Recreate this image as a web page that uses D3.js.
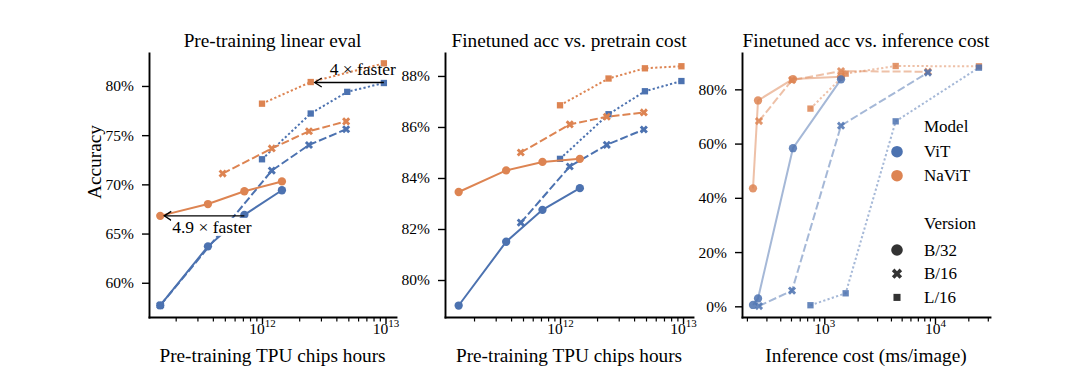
<!DOCTYPE html>
<html><head><meta charset="utf-8">
<script src="https://cdn.jsdelivr.net/npm/d3@7"></script>
<style>
body{margin:0;background:#fff}
svg{display:block}
text{font-family:"Liberation Serif","Times New Roman",serif;fill:#000}
</style>
</head><body>
<svg id="chart" width="1080" height="382"></svg>
<script>
// ---------------- data ----------------
const models = ["ViT", "NaViT"];
const versions = ["B/32", "B/16", "L/16"];
const titles = ["Pre-training linear eval", "Finetuned acc vs. pretrain cost", "Finetuned acc vs. inference cost"];
const xLabels = ["Pre-training TPU chips hours", "Pre-training TPU chips hours", "Inference cost (ms/image)"];
const yLabel = "Accuracy";

// pre-training cost (TPU chip hours)
const costB32 = [1.5e11, 3.65e11, 7.2e11, 1.45e12];
const costB16 = [4.8e11, 1.2e12, 2.4e12, 4.8e12];
const costL16 = [1e12, 2.48e12, 4.9e12, 9.7e12];
const costVitB16Lin = [1.5e11, 1.2e12, 2.4e12, 4.8e12];
const costNavitL16Lin = [1e12, 2.48e12, 9.7e12];

// panel 1: linear eval accuracy (%)
const linVitB32 = [57.7, 63.7, 66.9, 69.4];
const linNavitB32 = [66.8, 68.0, 69.3, 70.3];
const linVitB16 = [57.7, 71.4, 74.0, 75.6];
const linNavitB16 = [71.1, 73.65, 75.4, 76.4];
const linVitL16 = [72.55, 77.2, 79.4, 80.3];
const linNavitL16 = [78.2, 80.4, 82.3];

// panel 2: finetuned accuracy (%)
const ftVitB32 = [79.0, 81.5, 82.75, 83.6];
const ftNavitB32 = [83.45, 84.3, 84.63, 84.75];
const ftVitB16 = [82.25, 84.45, 85.3, 85.9];
const ftNavitB16 = [85.0, 86.1, 86.4, 86.57];
const ftVitL16 = [84.75, 86.5, 87.4, 87.8];
const ftNavitL16 = [86.85, 87.9, 88.3, 88.38];

// panel 3: inference cost (ms/image) and finetuned accuracy (%)
const infB32 = [227, 252, 521, 1416];
const infB16 = [257, 511, 1416, 8630];
const infL16 = [750, 1560, 4415, 24950];
const infVitB32 = [0.5, 2.9, 58.3, 83.7];
const infNavitB32 = [43.5, 75.9, 83.8, 84.6];
const infVitB16 = [0.1, 5.8, 66.6, 86.2];
const infNavitB16 = [68.3, 83.4, 86.7, 86.5];
const infVitL16 = [0.4, 4.8, 68.2, 88.0];
const infNavitL16 = [72.9, 85.8, 88.6, 88.5];

const yTicks1 = [60, 65, 70, 75, 80];
const yTicks2 = [80, 82, 84, 86, 88];
const yTicks3 = [0, 20, 40, 60, 80];
const xMajor12 = [1e12, 1e13];
const xMajor3 = [1e3, 1e4];

// ---------------- style ----------------
const colors = {"ViT": "#4C72B0", "NaViT": "#DD8452"};
const dashes = {"B/32": null, "B/16": "8,3", "L/16": "2.2,2.3"};
const symType = {"B/32": d3.symbolCircle, "B/16": d3.symbolCross, "L/16": d3.symbolSquare};
const symRot = {"B/32": 0, "B/16": 45, "L/16": 0};
const symSize = {"B/32": 54, "B/16": 42, "L/16": 40};
const legSize = {"B/32": 106, "B/16": 66, "L/16": 50};

const zip = (xs, ys) => xs.map((v, i) => [v, ys[i]]);
const ser = (model, version, xs, ys) => ({model, version, pts: zip(xs, ys)});

const TOP = 53, BOTTOM = 317;
const panels = [
  {x0: 149, x1: 396, xDom: [Math.pow(10, 11.085), Math.pow(10, 13.085)], yDom: [56.52, 83.35],
   yTicks: yTicks1, major: xMajor12, faded: false,
   series: [
     ser("ViT", "B/32", costB32, linVitB32), ser("ViT", "B/16", costVitB16Lin, linVitB16), ser("ViT", "L/16", costL16, linVitL16),
     ser("NaViT", "B/32", costB32, linNavitB32), ser("NaViT", "B/16", costB16, linNavitB16), ser("NaViT", "L/16", costNavitL16Lin, linNavitL16)]},
  {x0: 445, x1: 693, xDom: [Math.pow(10, 11.065), Math.pow(10, 13.081)], yDom: [78.55, 88.9],
   yTicks: yTicks2, major: xMajor12, faded: false,
   series: [
     ser("ViT", "B/32", costB32, ftVitB32), ser("ViT", "B/16", costB16, ftVitB16), ser("ViT", "L/16", costL16, ftVitL16),
     ser("NaViT", "B/32", costB32, ftNavitB32), ser("NaViT", "B/16", costB16, ftNavitB16), ser("NaViT", "L/16", costL16, ftNavitL16)]},
  {x0: 742, x1: 990, xDom: [Math.pow(10, 2.2566), Math.pow(10, 4.497)], yDom: [-3.94, 93.4],
   yTicks: yTicks3, major: xMajor3, faded: true,
   series: [
     ser("NaViT", "B/32", infB32, infNavitB32), ser("NaViT", "B/16", infB16, infNavitB16), ser("NaViT", "L/16", infL16, infNavitL16),
     ser("ViT", "B/32", infB32, infVitB32), ser("ViT", "B/16", infB16, infVitB16), ser("ViT", "L/16", infL16, infVitL16)]}
];

const svg = d3.select("#chart");
svg.append("rect").attr("width", 1080).attr("height", 382).attr("fill", "#fff");

function minorTicks(dom) {
  const out = [];
  const lo = Math.floor(Math.log10(dom[0])), hi = Math.ceil(Math.log10(dom[1]));
  for (let e = lo; e <= hi; e++) for (let m = 2; m <= 9; m++) {
    const v = m * Math.pow(10, e);
    if (v >= dom[0] && v <= dom[1]) out.push(v);
  }
  return out;
}

const scales = [];
panels.forEach((p, pi) => {
  const g = svg.append("g");
  const x = d3.scaleLog().domain(p.xDom).range([p.x0, p.x1]);
  const y = d3.scaleLinear().domain(p.yDom).range([BOTTOM, TOP]);
  scales.push({x, y});

  const clipId = "clip" + pi;
  svg.append("clipPath").attr("id", clipId).append("rect")
    .attr("x", p.x0).attr("y", TOP - 6).attr("width", p.x1 - p.x0 + 4).attr("height", BOTTOM - TOP + 6);

  // minor x ticks
  g.append("g").attr("transform", `translate(0,${BOTTOM})`)
    .call(d3.axisBottom(x).tickValues(minorTicks(p.xDom)).tickSize(4.5).tickFormat(() => ""))
    .call(s => s.select(".domain").remove())
    .call(s => s.selectAll(".tick line").attr("stroke", "#000").attr("stroke-width", 1.2));

  // major x ticks
  const xa = g.append("g").attr("transform", `translate(0,${BOTTOM})`)
    .call(d3.axisBottom(x).tickValues(p.major).tickSize(7).tickSizeOuter(0).tickFormat(() => ""));
  xa.select(".domain").attr("stroke", "#000").attr("stroke-width", 1.9).attr("stroke-linecap", "square");
  xa.selectAll(".tick line").attr("stroke", "#000").attr("stroke-width", 1.4);
  xa.selectAll(".tick text").remove();
  xa.selectAll(".tick").append("text")
    .attr("y", 16.5).attr("text-anchor", "middle").attr("font-size", 15.5)
    .attr("font-family", "Liberation Serif").attr("fill", "#000")
    .each(function(d) {
      const t = d3.select(this);
      t.append("tspan").text("10");
      t.append("tspan").attr("dy", -7).attr("font-size", 11).text(String(Math.round(Math.log10(d))));
    });

  // y axis
  const ya = g.append("g").attr("transform", `translate(${p.x0},0)`)
    .call(d3.axisLeft(y).tickValues(p.yTicks).tickSize(7).tickSizeOuter(0).tickPadding(8).tickFormat(d => d + "%"));
  ya.select(".domain").attr("stroke", "#000").attr("stroke-width", 1.9).attr("stroke-linecap", "square");
  ya.selectAll(".tick line").attr("stroke", "#000").attr("stroke-width", 1.4);
  ya.selectAll(".tick text").attr("font-size", 15.5).attr("font-family", "Liberation Serif").attr("fill", "#000");

  // title & x label
  g.append("text").attr("x", (p.x0 + p.x1) / 2).attr("y", 47).attr("text-anchor", "middle")
    .attr("font-size", 19.3).text(titles[pi]);
  g.append("text").attr("x", (p.x0 + p.x1) / 2).attr("y", 362).attr("text-anchor", "middle")
    .attr("font-size", 19.3).text(xLabels[pi]);

  // data
  const plot = g.append("g").attr("clip-path", `url(#${clipId})`);
  const line = d3.line().x(d => x(d[0])).y(d => y(d[1]));
  p.series.forEach(s => {
    plot.append("path").datum(s.pts).attr("d", line)
      .attr("fill", "none").attr("stroke", colors[s.model]).attr("stroke-width", 2)
      .attr("stroke-dasharray", dashes[s.version])
      .attr("opacity", p.faded ? 0.5 : 1);
    plot.selectAll(null).data(s.pts).enter().append("path")
      .attr("d", d3.symbol(symType[s.version], symSize[s.version]))
      .attr("transform", d => `translate(${x(d[0])},${y(d[1])}) rotate(${symRot[s.version]})`)
      .attr("fill", colors[s.model])
      .attr("opacity", p.faded ? 0.85 : 1);
  });
});

// y label
svg.append("text").attr("transform", "translate(101,162) rotate(-90)")
  .attr("text-anchor", "middle").attr("font-size", 19.3).text(yLabel);

// arrow annotations in panel 1
const s1 = scales[0];
svg.append("defs").append("marker").attr("id", "head").attr("viewBox", "-10 -6 12 12")
  .attr("refX", 0).attr("refY", 0).attr("markerWidth", 12).attr("markerHeight", 12)
  .attr("markerUnits", "userSpaceOnUse").attr("orient", "auto")
  .append("path").attr("d", "M-7,-4.5L0,0L-7,4.5").attr("fill", "none").attr("stroke", "#000").attr("stroke-width", 1.3);

function arrow(xFrom, xTo, yVal, label, dx, dy, anchor, box) {
  const ax = s1.x(xFrom), bx = s1.x(xTo) + 4, yy = s1.y(yVal);
  svg.append("line").attr("x1", ax).attr("y1", yy).attr("x2", bx).attr("y2", yy)
    .attr("stroke", "#000").attr("stroke-width", 1.3).attr("marker-end", "url(#head)");
  const tx = (anchor === "end" ? ax : s1.x(xTo)) + dx;
  const t = svg.append("text").attr("x", tx).attr("y", yy + dy).attr("text-anchor", anchor)
    .attr("font-size", 17.5).text(label);
  if (box) {
    const bb = t.node().getBBox();
    svg.insert("rect", function() { return t.node(); })
      .attr("x", bb.x - 1).attr("y", bb.y + 1).attr("width", bb.width + 2).attr("height", bb.height - 2)
      .attr("fill", "#fff");
  }
}
arrow(9.7e12, 2.48e12, 80.35, "4 × faster", 12, -8, "end", false);
arrow(7.2e11, 1.5e11, 66.8, "4.9 × faster", 12, 17, "start", true);

// legend
const lg = svg.append("g");
const LX = 897, TX = 924;
lg.append("text").attr("x", TX).attr("y", 132).attr("font-size", 17).text("Model");
models.forEach((m, i) => {
  const yy = 151.7 + i * 24;
  lg.append("path").attr("d", d3.symbol(d3.symbolCircle, legSize["B/32"]))
    .attr("transform", `translate(${LX},${yy})`).attr("fill", colors[m]);
  lg.append("text").attr("x", TX).attr("y", yy + 5.5).attr("font-size", 17).text(m);
});
lg.append("text").attr("x", TX).attr("y", 229).attr("font-size", 17).text("Version");
versions.forEach((v, i) => {
  const yy = 250 + i * 23.7;
  lg.append("path").attr("d", d3.symbol(symType[v], legSize[v]))
    .attr("transform", `translate(${LX},${yy}) rotate(${symRot[v]})`).attr("fill", "#333");
  lg.append("text").attr("x", TX).attr("y", yy + 5.5).attr("font-size", 17).text(v);
});
</script>
</body></html>
